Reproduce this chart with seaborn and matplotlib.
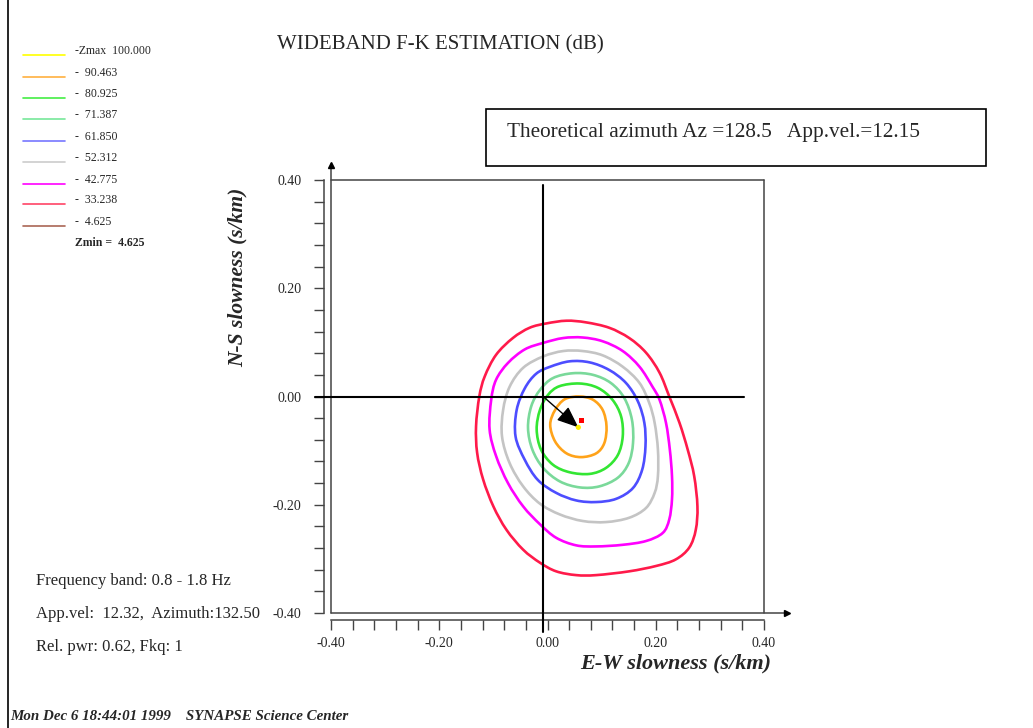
import numpy as np
import pandas as pd
import matplotlib
matplotlib.use("Agg")
import matplotlib.pyplot as plt
from matplotlib.lines import Line2D
from matplotlib.path import Path
from matplotlib.patches import PathPatch
import seaborn as sns

# ---------------- data ----------------
legend_values = ["100.000", "90.463", "80.925", "71.387", "61.850",
                 "52.312", "42.775", "33.238", "4.625"]
legend_colors = ["#ffff00", "#ffb040", "#44ee44", "#77e799", "#7777ff",
                 "#cccccc", "#ff00ff", "#ff4466", "#aa6655"]
zmin_label = "4.625"

level_names = ["90.463", "80.925", "71.387", "61.850", "52.312", "42.775", "33.238"]
level_colors = ["#ffa31a", "#33e633", "#7ad99a", "#4d4dff", "#c4c4c4", "#ff00ff", "#ff1a4a"]

c_90_x = [0.059, 0.084, 0.102, 0.109, 0.105, 0.090, 0.062, 0.035, 0.014, 0.005, 0.014, 0.032]
c_90_y = [0.000, -0.006, -0.025, -0.055, -0.086, -0.105, -0.112, -0.105, -0.083, -0.052, -0.025, -0.005]

c_81_x = [0.022, 0.059, 0.093, 0.120, 0.136, 0.139, 0.130, 0.108, 0.078, 0.041, 0.010, -0.012, -0.020, -0.014, 0.001]
c_81_y = [0.019, 0.024, 0.016, -0.006, -0.037, -0.074, -0.108, -0.132, -0.143, -0.140, -0.126, -0.098, -0.061, -0.025, 0.003]

c_71_x = [0.010, 0.047, 0.084, 0.117, 0.142, 0.156, 0.158, 0.150, 0.130, 0.096, 0.060, 0.023, -0.008, -0.028, -0.036, -0.030, -0.014]
c_71_y = [0.034, 0.043, 0.040, 0.025, -0.003, -0.043, -0.086, -0.123, -0.150, -0.166, -0.168, -0.157, -0.132, -0.098, -0.058, -0.018, 0.012]

c_62_x = [0.005, 0.041, 0.078, 0.114, 0.145, 0.167, 0.179, 0.181, 0.175, 0.158, 0.127, 0.090, 0.053, 0.016, -0.018, -0.042, -0.059, -0.057, -0.042, -0.021]
c_62_y = [0.055, 0.065, 0.063, 0.049, 0.025, -0.009, -0.049, -0.092, -0.135, -0.169, -0.189, -0.195, -0.192, -0.178, -0.154, -0.117, -0.074, -0.025, 0.015, 0.042]

c_52_x = [-0.008, 0.029, 0.065, 0.102, 0.139, 0.170, 0.188, 0.198, 0.204, 0.204, 0.198, 0.182, 0.151, 0.108, 0.065, 0.023, -0.014, -0.045, -0.070, -0.084, -0.082, -0.070, -0.045]
c_52_y = [0.074, 0.084, 0.084, 0.076, 0.055, 0.025, -0.012, -0.049, -0.098, -0.147, -0.178, -0.206, -0.224, -0.232, -0.230, -0.218, -0.198, -0.166, -0.123, -0.074, -0.025, 0.018, 0.053]

c_43_x = [-0.008, 0.029, 0.065, 0.102, 0.139, 0.170, 0.194, 0.207, 0.219, 0.226, 0.230, 0.230, 0.225, 0.213, 0.182, 0.139, 0.090, 0.053, 0.016, -0.014, -0.045, -0.073, -0.095, -0.107, -0.104, -0.095, -0.073, -0.042]
c_43_y = [0.099, 0.108, 0.109, 0.102, 0.084, 0.055, 0.018, -0.006, -0.049, -0.098, -0.147, -0.190, -0.227, -0.252, -0.267, -0.274, -0.277, -0.275, -0.261, -0.236, -0.203, -0.160, -0.110, -0.061, -0.006, 0.031, 0.062, 0.087]

c_33_x = [-0.002, 0.035, 0.071, 0.114, 0.151, 0.182, 0.207, 0.225, 0.244, 0.259, 0.271, 0.277, 0.274, 0.262, 0.237, 0.201, 0.151, 0.090, 0.053, 0.016, -0.014, -0.045, -0.076, -0.100, -0.119, -0.130, -0.132, -0.126, -0.116, -0.095, -0.064, -0.033]
c_33_y = [0.135, 0.140, 0.137, 0.127, 0.108, 0.081, 0.044, 0.000, -0.049, -0.098, -0.147, -0.203, -0.246, -0.279, -0.301, -0.313, -0.323, -0.330, -0.330, -0.323, -0.307, -0.283, -0.246, -0.203, -0.153, -0.104, -0.055, 0.000, 0.037, 0.077, 0.108, 0.127]

contour_x = [c_90_x, c_81_x, c_71_x, c_62_x, c_52_x, c_43_x, c_33_x]
contour_y = [c_90_y, c_81_y, c_71_y, c_62_y, c_52_y, c_43_y, c_33_y]

origin = (-0.008, 0.0)
peak_est = (0.057, -0.057)      # arrow tip / yellow point
peak_theo = (0.063, -0.045)     # red point

x_ticks_major = [-0.40, -0.20, 0.00, 0.20, 0.40]
y_ticks_major = [-0.40, -0.20, 0.00, 0.20, 0.40]
minor_ticks = [-0.36, -0.32, -0.28, -0.24, -0.16, -0.12, -0.08, -0.04,
               0.04, 0.08, 0.12, 0.16, 0.24, 0.28, 0.32, 0.36]

# ---------------- figure ----------------
sns.set_theme(style="white")
plt.rcParams["font.family"] = ["Liberation Serif", "DejaVu Serif"]

W, H = 1033, 728
fig = plt.figure(figsize=(W / 100, H / 100), dpi=100)
ax = fig.add_axes([331 / W, 1 - 613 / H, 433 / W, 433 / H])
ax.set_facecolor("white")
ax.set_xlim(-0.4, 0.4)
ax.set_ylim(-0.4, 0.4)


def smooth_closed_path(xs, ys):
    """Closed curve through the read vertices, drawn as cubic Bezier segments."""
    p = np.column_stack([xs, ys])
    n = len(p)
    verts = [tuple(p[0])]
    codes = [Path.MOVETO]
    for i in range(n):
        p0, p1, p2, p3 = p[i - 1], p[i], p[(i + 1) % n], p[(i + 2) % n]
        c1 = p1 + (p2 - p0) / 6.0
        c2 = p2 - (p3 - p1) / 6.0
        verts += [tuple(c1), tuple(c2), tuple(p2)]
        codes += [Path.CURVE4] * 3
    return Path(verts, codes)


for name, col, xs, ys in zip(level_names, level_colors, contour_x, contour_y):
    ax.add_patch(PathPatch(smooth_closed_path(xs, ys), facecolor="none",
                           edgecolor=col, lw=1.9, zorder=3))

# crosshair
ax.plot([-0.429, 0.3625], [0, 0], color="black", lw=1.5, clip_on=False, zorder=4)
ax.plot([origin[0], origin[0]], [0.391, -0.435], color="black", lw=1.5, clip_on=False, zorder=4)

# arrow and points
ax.annotate("", xy=peak_est, xytext=origin,
            arrowprops=dict(arrowstyle="-|>,head_length=1.1,head_width=0.45",
                            color="black", lw=1.0, shrinkA=0, shrinkB=0), zorder=6)
pts = pd.DataFrame({"sx": [peak_est[0], peak_theo[0]],
                    "sy": [peak_est[1], peak_theo[1]],
                    "kind": ["estimated", "theoretical"]})
sns.scatterplot(data=pts, x="sx", y="sy", hue="kind", style="kind",
                palette={"estimated": "#ffee00", "theoretical": "#ff0000"},
                markers={"estimated": "o", "theoretical": "s"},
                s=14, linewidth=0, legend=False, ax=ax, zorder=7)
ax.set_xlabel("")
ax.set_ylabel("")

# box lines
box_c = "#444444"
ax.plot([-0.4, -0.4], [-0.4, 0.43], color=box_c, lw=1.1, clip_on=False, zorder=2)
ax.plot([-0.4, 0.445], [-0.4, -0.4], color=box_c, lw=1.1, clip_on=False, zorder=2)
ax.plot([-0.4, 0.4], [0.4, 0.4], color=box_c, lw=1.1, clip_on=False, zorder=2)
ax.plot([0.4, 0.4], [-0.4, 0.4], color=box_c, lw=1.1, clip_on=False, zorder=2)
ax.plot([-0.4], [0.428], marker="^", ms=4, color="black", clip_on=False)
ax.plot([0.442], [-0.4], marker=">", ms=4, color="black", clip_on=False)

# spines / ticks
for s in ["top", "right"]:
    ax.spines[s].set_visible(False)
for s in ["left", "bottom"]:
    ax.spines[s].set_visible(True)
    ax.spines[s].set_position(("outward", 5))
    ax.spines[s].set_color(box_c)
    ax.spines[s].set_linewidth(1.1)

ax.set_xticks(x_ticks_major)
ax.set_yticks(y_ticks_major)
ax.set_xticks(minor_ticks, minor=True)
ax.set_yticks(minor_ticks, minor=True)
ax.set_xticklabels([f"{v:.2f}" for v in x_ticks_major])
ax.set_yticklabels([f"{v:.2f}" for v in y_ticks_major])
ax.tick_params(axis="both", which="both", direction="out", length=7.5, width=1.0,
               color=box_c, bottom=True, left=True)
ax.tick_params(axis="x", which="major", pad=5, labelsize=10)
ax.tick_params(axis="y", which="major", pad=9, labelsize=10)
ax.grid(False)


def ftext(px, py, s, **kw):
    fig.text(px / W, 1 - py / H, s, **kw)


# axis labels
ftext(771, 663, "E-W slowness (s/km)", ha="right", va="center", fontsize=16,
      fontweight="bold", style="italic")
ftext(238, 277, "N-S slowness (s/km)", ha="center", va="center", fontsize=15.5,
      fontweight="bold", style="italic", rotation=90)

# title
ftext(440, 45, "WIDEBAND F-K ESTIMATION (dB)", ha="center", va="center", fontsize=15)

# theoretical box
fig.patches.append(plt.Rectangle((486 / W, 1 - 166 / H), 500 / W, 57 / H,
                                 transform=fig.transFigure, fill=False,
                                 edgecolor="black", lw=1.2))
ftext(507, 132, "Theoretical azimuth Az =128.5   App.vel.=12.15", ha="left",
      va="center", fontsize=15.3)

# legend
leg_y = [51, 73, 94, 115, 137, 158, 180, 200, 222]
for yy, val, col in zip(leg_y, legend_values, legend_colors):
    fig.add_artist(Line2D([23 / W, 65 / W], [1 - (yy + 4) / H] * 2, color=col, lw=1.2,
                          transform=fig.transFigure))
    if val == legend_values[0]:
        ftext(75, yy, "-Zmax  " + val, ha="left", va="center", fontsize=8.5)
    else:
        ftext(75, yy, "-  " + val, ha="left", va="center", fontsize=8.5)
ftext(75, 243, "Zmin =  " + zmin_label, ha="left", va="center", fontsize=8.5, fontweight="bold")

# info text
ftext(36, 581, "Frequency band: 0.8 - 1.8 Hz", ha="left", va="center", fontsize=12)
ftext(36, 614, "App.vel:  12.32,  Azimuth:132.50", ha="left", va="center", fontsize=12)
ftext(36, 647, "Rel. pwr: 0.62, Fkq: 1", ha="left", va="center", fontsize=12)
ftext(10, 716, "Mon Dec 6 18:44:01 1999    SYNAPSE Science Center", ha="left",
      va="center", fontsize=10.8, fontweight="bold", style="italic")

# page border
fig.add_artist(Line2D([8 / W, 8 / W], [0, 1], color="black", lw=1.2,
                      transform=fig.transFigure))

fig.savefig("out.png", dpi=100, facecolor="white")
